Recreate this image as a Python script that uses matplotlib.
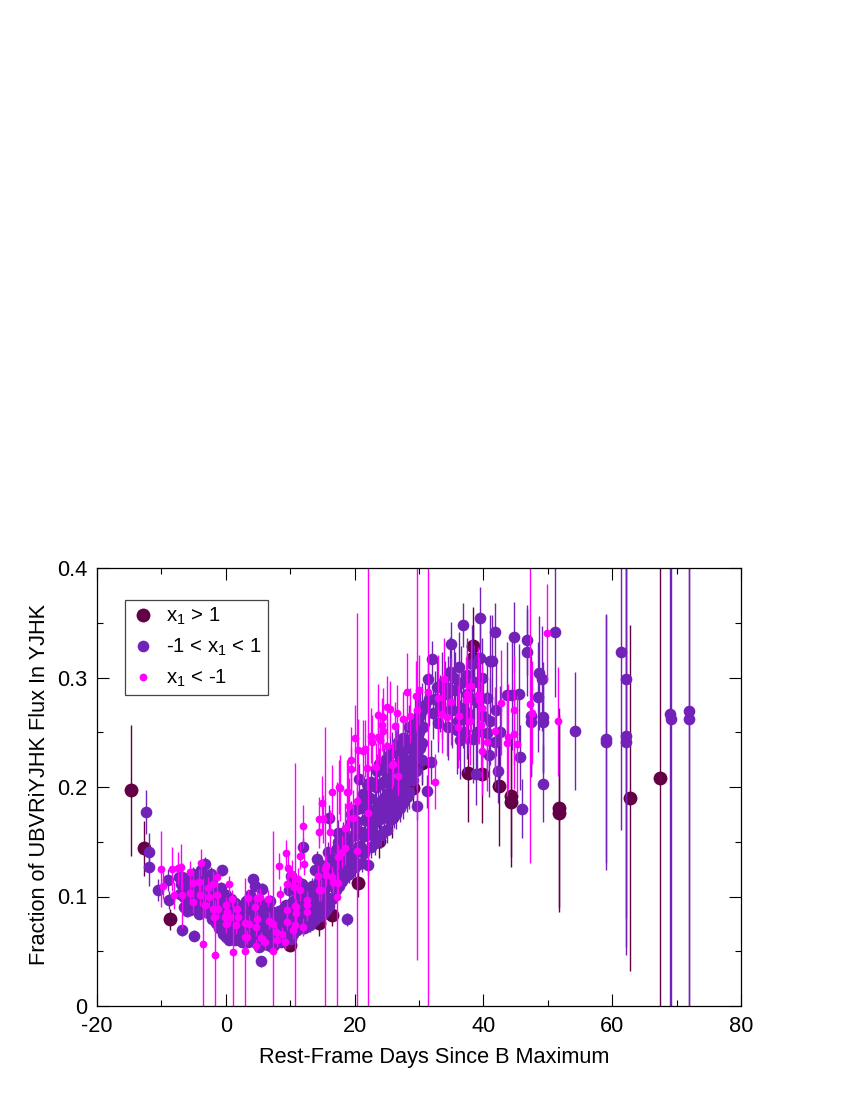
#!/usr/bin/env python3
import matplotlib
matplotlib.use('Agg')
import matplotlib.pyplot as plt
from matplotlib.ticker import MultipleLocator, FixedFormatter, FixedLocator

plt.rcParams['font.family'] = ['Liberation Sans', 'DejaVu Sans']
plt.rcParams['mathtext.default'] = 'regular'
plt.rcParams['axes.unicode_minus'] = False

# (days, fraction, error)
dark_points = [
    (-14.7, .197, .060), (-12.7, .144, .025), (-8.7, .079, .010), (-0.9, .095, .006),
    (4.0, .090, .008), (5.8, .083, .008), (9.5, .083, .006), (10.0, .056, .005),
    (14.5, .076, .012), (16.5, .083, .010), (20.5, .112, .012), (23.8, .151, .016),
    (25.8, .173, .020), (29.0, .199, .020), (30.4, .222, .020), (38.4, .329, .035),
    (38.4, .318, .030), (37.6, .213, .045), (39.8, .212, .045), (42.4, .201, .055),
    (44.3, .192, .056), (44.3, .186, .059), (51.7, .181, .091), (51.7, .176, .090),
    (62.8, .190, .158), (67.4, .208, .400),
]

mid_points = [
    # early, sparse
    (-12.4, .177, .020), (-12.0, .141, .017), (-11.9, .127, .017), (-10.5, .106, .010),
    (-9.0, .115, .010), (-8.8, .097, .008), (-6.8, .069, .005), (-4.9, .064, .005),
    (-7.3, .118, .008), (-3.2, .130, .006), (-2.3, .121, .006), (-0.6, .124, .005),
    (-5.6, .118, .006), (4.2, .116, .005), (4.5, .110, .005), (5.6, .107, .005),
    (5.5, .041, .005), (18.8, .079, .006), (12.0, .145, .008), (14.1, .134, .008),
    (16.0, .172, .012), (17.4, .158, .012),
    # minimum, dense band
    (-7.1, .102, .006), (-6.9, .111, .006), (-6.8, .118, .005),
    (-6.1, .087, .006), (-6.0, .096, .005), (-5.9, .104, .005), (-6.2, .115, .006),
    (-5.2, .091, .005), (-5.0, .101, .005), (-4.9, .109, .005), (-5.1, .121, .006),
    (-4.1, .084, .005), (-4.0, .095, .005), (-3.9, .106, .005), (-4.2, .114, .005), (-3.8, .124, .006),
    (-3.1, .086, .005), (-3.0, .094, .005), (-2.9, .105, .005), (-3.2, .116, .005),
    (-2.1, .079, .005), (-2.0, .091, .005), (-1.9, .099, .005), (-2.2, .111, .005),
    (-1.1, .071, .004), (-1.0, .081, .005), (-0.9, .089, .005), (-1.2, .101, .005), (-0.8, .108, .005),
    (0.1, .063, .004), (0.0, .071, .004), (-0.1, .079, .005), (0.2, .091, .005), (0.0, .101, .005),
    (1.1, .061, .004), (0.9, .070, .004), (1.0, .081, .005), (1.2, .089, .005), (0.8, .098, .005),
    (2.1, .060, .004), (1.9, .071, .004), (2.0, .079, .005), (2.2, .091, .005),
    (3.1, .064, .004), (2.9, .076, .005), (3.0, .084, .005), (3.2, .096, .005),
    (4.1, .059, .004), (3.9, .069, .004), (4.0, .081, .005), (4.2, .089, .005), (3.8, .101, .005),
    (5.1, .054, .004), (4.9, .066, .004), (5.0, .074, .005), (5.2, .086, .005), (4.8, .094, .005),
    (6.1, .058, .004), (5.9, .067, .004), (6.0, .079, .005), (6.2, .087, .005),
    (7.1, .054, .004), (6.9, .066, .004), (7.0, .074, .005), (7.2, .086, .005), (6.8, .096, .005),
    (8.1, .059, .004), (7.9, .067, .004), (8.0, .079, .005), (8.2, .087, .005),
    (9.1, .060, .004), (8.9, .071, .004), (9.0, .079, .005), (9.2, .091, .005),
    (10.1, .061, .005), (9.9, .069, .005), (10.0, .081, .005), (10.2, .089, .005), (9.8, .106, .006), (10.1, .119, .006),
    (11.1, .069, .005), (10.9, .081, .005), (11.0, .089, .005), (11.2, .101, .006), (10.8, .114, .006),
    (12.1, .071, .005), (11.9, .079, .005), (12.0, .091, .006), (12.2, .099, .006), (11.8, .111, .006),
    (13.1, .074, .006), (12.9, .086, .006), (13.0, .094, .006), (13.2, .106, .007),
    (14.1, .081, .007), (13.9, .089, .007), (14.0, .101, .007), (14.2, .109, .007), (13.8, .124, .008),
    (15.1, .084, .007), (14.9, .096, .007), (15.0, .104, .008), (15.2, .116, .008), (14.8, .129, .008),
    (16.1, .091, .007), (15.9, .099, .008), (16.0, .111, .008), (16.2, .124, .008), (15.8, .141, .009),
    # more of the band, between the rows above
    (-6.5, .090, .005), (-6.5, .100, .005), (-6.4, .110, .005), (-5.5, .088, .005), (-5.5, .098, .005), (-5.4, .108, .005),
    (-4.5, .090, .005), (-4.5, .100, .005), (-4.6, .110, .005), (-4.4, .118, .005), (-3.5, .088, .005), (-3.5, .098, .005),
    (-3.4, .108, .005), (-3.6, .118, .005), (-2.5, .084, .005), (-2.5, .094, .005), (-2.6, .104, .005), (-1.5, .076, .005),
    (-1.5, .086, .005), (-1.6, .096, .005), (-1.4, .104, .005), (-0.5, .066, .004), (-0.5, .076, .005), (-0.4, .086, .005),
    (-0.6, .096, .005), (0.5, .060, .004), (0.5, .068, .004), (0.6, .076, .005), (0.4, .086, .005), (0.5, .096, .005),
    (1.5, .060, .004), (1.5, .068, .004), (1.6, .076, .005), (1.4, .086, .005), (1.5, .094, .005), (2.5, .058, .004),
    (2.5, .066, .004), (2.6, .076, .005), (2.4, .086, .005), (3.5, .058, .004), (3.5, .066, .004), (3.6, .076, .005),
    (3.4, .086, .005), (3.5, .094, .005), (4.5, .058, .004), (4.5, .068, .004), (4.6, .078, .005), (4.4, .088, .005),
    (5.5, .056, .004), (5.5, .066, .004), (5.6, .076, .005), (5.4, .086, .005), (5.5, .094, .005), (6.5, .056, .004),
    (6.5, .064, .004), (6.6, .074, .005), (6.4, .084, .005), (7.5, .056, .004), (7.5, .066, .004), (7.6, .076, .005),
    (7.4, .086, .005), (8.5, .058, .004), (8.5, .066, .004), (8.6, .076, .005), (8.4, .086, .005), (9.5, .062, .005),
    (9.5, .072, .005), (9.6, .082, .005), (9.4, .092, .005), (10.5, .066, .005), (10.5, .076, .005), (10.6, .086, .005),
    (10.4, .096, .005), (11.5, .072, .005), (11.5, .082, .005), (11.6, .092, .006), (11.4, .104, .006), (12.5, .072, .005),
    (12.5, .084, .006), (12.6, .094, .006), (12.4, .104, .006), (13.5, .078, .006), (13.5, .088, .006), (13.6, .098, .007),
    (13.4, .110, .007), (14.5, .082, .007), (14.5, .092, .007), (14.6, .102, .007), (14.4, .114, .008), (15.5, .088, .007),
    (15.5, .098, .008), (15.6, .110, .008), (15.4, .122, .008),
    # the rise
    (17.1, .106, .008), (16.9, .117, .008), (17.0, .131, .009), (17.2, .144, .009),
    (18.1, .114, .008), (17.9, .129, .009), (18.0, .139, .009), (18.2, .158, .010),
    (19.1, .121, .009), (18.9, .134, .009), (19.0, .151, .010), (19.4, .175, .012),
    (20.1, .127, .009), (19.9, .139, .010), (20.0, .156, .010), (20.7, .207, .014), (20.2, .169, .012),
    (21.1, .131, .009), (20.9, .146, .010), (21.0, .159, .011), (21.3, .194, .014), (21.2, .181, .012),
    (22.1, .129, .009), (21.9, .156, .010), (22.0, .171, .012), (22.0, .203, .014), (22.2, .189, .013),
    (23.1, .149, .011), (22.9, .166, .011), (23.0, .179, .012), (23.2, .201, .014),
    (24.1, .156, .012), (23.9, .171, .012), (24.0, .186, .013), (24.2, .204, .014), (23.8, .221, .015),
    (25.1, .161, .012), (24.9, .179, .013), (25.0, .194, .014), (25.2, .211, .015), (24.8, .226, .015),
    (26.1, .176, .013), (25.9, .191, .014), (26.0, .204, .014), (26.2, .219, .015), (25.8, .234, .016),
    (27.1, .181, .013), (26.9, .194, .014), (27.0, .211, .015), (27.2, .226, .016), (26.8, .241, .017),
    (28.1, .191, .014), (27.9, .204, .015), (28.0, .221, .016), (28.2, .236, .017), (27.8, .244, .018),
    (29.1, .206, .016), (28.9, .219, .017), (29.0, .234, .018), (29.2, .251, .020), (29.7, .183, .013),
    (29.8, .262, .022), (30.1, .236, .020), (30.0, .250, .022), (30.2, .266, .024),
    (16.5, .098, .008), (16.5, .110, .008), (16.6, .122, .008), (16.4, .135, .009), (17.5, .110, .008), (17.5, .122, .008),
    (17.6, .135, .009), (17.4, .150, .010), (18.5, .118, .008), (18.5, .130, .009), (18.6, .145, .010), (18.4, .155, .010),
    (19.5, .125, .009), (19.5, .140, .010), (19.6, .155, .010), (19.4, .168, .011), (20.5, .130, .009), (20.5, .145, .010),
    (20.6, .160, .011), (20.4, .180, .012), (21.5, .140, .010), (21.5, .155, .011), (21.6, .170, .012), (21.4, .185, .013),
    (22.5, .145, .010), (22.5, .160, .011), (22.6, .175, .012), (22.4, .190, .013), (22.5, .205, .014), (23.5, .155, .011),
    (23.5, .170, .012), (23.6, .185, .013), (23.4, .200, .014), (23.5, .215, .015), (24.5, .160, .012), (24.5, .175, .013),
    (24.6, .190, .014), (24.4, .205, .015), (24.5, .220, .016), (25.5, .170, .013), (25.5, .185, .014), (25.6, .200, .015),
    (25.4, .215, .016), (25.5, .230, .017), (26.5, .175, .013), (26.5, .190, .014), (26.6, .205, .015), (26.4, .220, .016),
    (26.5, .235, .017), (27.5, .185, .014), (27.5, .200, .015), (27.6, .215, .016), (27.4, .230, .017), (27.5, .245, .018),
    (28.5, .195, .015), (28.5, .210, .016), (28.6, .225, .017), (28.4, .240, .018), (28.5, .255, .020), (29.5, .215, .017),
    (29.5, .230, .018), (29.6, .245, .020), (29.4, .260, .022), (30.5, .225, .020), (30.5, .240, .021), (30.6, .255, .023),
    (30.4, .270, .025),
    # the plateau
    (31.2, .196, .015), (31.9, .223, .020), (32.0, .317, .016), (31.4, .299, .020), (32.8, .291, .025),
    (31.0, .275, .022), (32.1, .268, .024), (33.0, .258, .026), (33.2, .276, .026), (34.0, .285, .030),
    (34.8, .305, .032), (35.0, .331, .020), (36.9, .348, .020), (36.2, .310, .032), (35.6, .289, .034),
    (36.4, .243, .036), (35.9, .252, .040), (35.1, .270, .034), (36.8, .272, .036), (37.5, .302, .034),
    (38.2, .312, .036), (38.6, .296, .034), (38.4, .244, .040), (38.9, .212, .028), (37.6, .268, .038),
    (39.5, .354, .029), (39.5, .318, .034), (39.8, .300, .036), (39.0, .278, .040), (40.6, .281, .038),
    (40.5, .249, .040), (40.9, .229, .038), (41.3, .315, .042), (41.0, .315, .042), (41.8, .342, .026),
    (41.8, .241, .042), (42.3, .215, .030), (43.7, .284, .048), (44.4, .284, .050), (44.8, .337, .032),
    (45.6, .285, .046), (45.7, .227, .030), (46.0, .180, .027), (46.8, .334, .032), (46.8, .323, .040),
    (47.4, .265, .055), (47.4, .259, .050), (48.5, .282, .050), (48.6, .304, .052), (49.1, .299, .048),
    (49.3, .264, .050), (49.3, .259, .046), (49.3, .203, .035), (51.1, .342, .060),
    (31.5, .280, .024), (32.5, .280, .026), (33.5, .295, .028), (34.5, .290, .030), (35.5, .300, .032), (36.5, .295, .034),
    (37.5, .285, .036), (38.5, .280, .038), (33.5, .270, .026), (34.5, .255, .030), (36.0, .260, .034), (37.0, .250, .036),
    (37.5, .262, .036), (39.0, .250, .038), (40.0, .265, .038), (41.0, .260, .040), (42.0, .270, .042), (42.5, .250, .042),
    # late, sparse
    (54.2, .251, .054), (59.1, .244, .113), (59.1, .241, .117), (61.4, .323, .162),
    (62.1, .299, .219), (62.1, .247, .193), (62.1, .241, .194), (69.0, .267, .300),
    (69.1, .262, .300), (72.0, .269, .310), (72.0, .262, .310),
]

pink_points = [
    # minimum
    (-10.0, .125, .035), (-9.7, .110, .012), (-8.4, .125, .020), (-7.0, .127, .021),
    (-7.5, .126, .015), (-5.6, .122, .010), (-3.9, .131, .012), (-3.5, .057, .060),
    (-1.6, .047, .050), (1.1, .049, .050), (3.0, .050, .067), (7.4, .050, .110),
    (-8.0, .101, .012), (-6.8, .101, .030), (-5.6, .103, .010), (-5.1, .095, .010),
    (-5.1, .112, .010), (-4.2, .113, .012), (-4.0, .101, .010), (-3.2, .092, .012),
    (-2.8, .108, .010), (-2.0, .111, .012), (-1.4, .118, .008), (-2.6, .100, .010),
    (-1.4, .101, .010), (-2.0, .089, .010), (-1.2, .089, .010), (-1.8, .081, .010),
    (0.0, .092, .008), (1.0, .098, .008), (0.5, .111, .008), (1.7, .089, .008),
    (0.2, .086, .008), (-0.1, .081, .008), (0.7, .081, .008), (1.9, .081, .008),
    (0.0, .075, .008), (1.6, .074, .008), (3.4, .099, .008), (4.5, .090, .008),
    (5.3, .100, .008), (4.8, .099, .008), (6.6, .098, .008), (3.0, .076, .008),
    (3.6, .075, .008), (4.8, .079, .008), (4.7, .072, .008), (6.7, .078, .008),
    (7.3, .075, .008), (8.4, .102, .008), (9.5, .088, .008), (10.9, .090, .008),
    (10.9, .085, .008), (9.5, .077, .008), (10.7, .074, .008), (10.4, .069, .008),
    (12.0, .072, .008), (7.8, .068, .006), (8.7, .066, .006), (8.0, .060, .006),
    (9.2, .058, .006), (5.5, .062, .006), (6.1, .058, .006), (4.7, .055, .006),
    (3.0, .063, .006), (3.3, .063, .006), (8.3, .128, .012), (9.3, .140, .012),
    (11.5, .137, .012), (12.1, .130, .010), (9.7, .126, .012), (10.3, .121, .012),
    (9.5, .111, .010), (10.6, .109, .010), (11.5, .106, .010), (11.2, .116, .010),
    (10.8, .091, .131), (12.6, .097, .008), (12.6, .092, .008), (12.6, .086, .008),
    # rise
    (12.0, .164, .020), (14.5, .171, .020), (15.1, .171, .022), (14.5, .159, .015),
    (14.9, .185, .025), (16.2, .159, .020), (16.5, .195, .025), (17.6, .200, .025),
    (15.6, .128, .010), (15.6, .120, .010), (14.3, .119, .010), (16.5, .118, .010),
    (16.6, .113, .010), (17.4, .112, .010), (14.8, .106, .010), (14.5, .106, .010),
    (15.4, .125, .130), (17.2, .100, .105), (20.3, .142, .217), (22.1, .176, .250),
    (19.0, .195, .030), (19.1, .183, .025), (20.3, .187, .030), (19.8, .172, .025),
    (18.5, .163, .022), (18.5, .144, .015), (18.0, .141, .015), (17.4, .136, .012),
    (17.7, .199, .030), (18.8, .195, .030), (20.0, .245, .030), (20.5, .234, .028),
    (21.3, .233, .028), (21.6, .235, .026), (22.5, .247, .025), (22.7, .241, .025),
    (19.4, .225, .030), (19.5, .216, .020), (23.6, .266, .028), (24.4, .264, .026),
    (23.6, .246, .024), (23.9, .243, .022), (25.0, .237, .024), (23.4, .218, .022),
    (21.9, .217, .020), (25.8, .220, .022), (26.8, .210, .018), (24.3, .257, .024),
    (24.4, .251, .022), (25.0, .273, .028), (25.5, .271, .026), (26.6, .268, .025),
    (27.5, .262, .025), (28.6, .265, .025), (26.3, .256, .022), (26.0, .221, .020),
    # plateau
    (33.9, .299, .037), (28.1, .287, .035), (30.0, .289, .032), (29.5, .283, .032),
    (31.4, .287, .300), (29.7, .270, .228), (37.4, .285, .040), (38.1, .292, .042),
    (37.3, .279, .040), (39.2, .284, .044), (39.3, .279, .040), (39.8, .272, .040),
    (42.7, .277, .048), (44.8, .270, .050), (47.3, .276, .145), (49.8, .341, .044),
    (51.6, .260, .050), (47.6, .268, .047), (35.0, .278, .040), (33.0, .281, .040),
    (33.6, .267, .036), (34.3, .264, .036), (36.2, .265, .040), (36.0, .255, .038),
    (37.9, .260, .040), (39.6, .257, .040), (40.6, .241, .045), (41.8, .251, .040),
    (39.8, .233, .040), (43.7, .240, .048), (43.8, .246, .048), (44.8, .248, .050),
    (45.2, .239, .045), (32.5, .205, .025),
]


def draw_group(ax, points, color, size, order, label):
    days = [p[0] for p in points]
    frac = [p[1] for p in points]
    err = [p[2] for p in points]
    return ax.errorbar(days, frac, yerr=err, fmt='o', color=color, ms=size, mew=0,
                       elinewidth=1.0, capsize=1.3, capthick=0.8, zorder=order, label=label)


fig = plt.figure(figsize=(8.5, 11), dpi=100)
ax = fig.add_axes([97 / 850, 1 - 1006 / 1100, (741 - 97) / 850, (1006 - 568) / 1100])

draw_group(ax, dark_points, '#640045', 10.0, 3, 'x$_1$ > 1')
draw_group(ax, mid_points, '#7222b8', 8.4, 4, '-1 < x$_1$ < 1')
draw_group(ax, pink_points, '#ff00ff', 5.6, 5, 'x$_1$ < -1')

ax.set_xlim(-20, 80)
ax.set_ylim(0, 0.4)
ax.xaxis.set_major_locator(MultipleLocator(20))
ax.xaxis.set_minor_locator(MultipleLocator(10))
ax.yaxis.set_major_locator(FixedLocator([0, 0.1, 0.2, 0.3, 0.4]))
ax.yaxis.set_major_formatter(FixedFormatter(['0', '0.1', '0.2', '0.3', '0.4']))
ax.yaxis.set_minor_locator(MultipleLocator(0.05))
ax.tick_params(which='major', direction='in', top=True, right=True, length=8.6, width=0.8, labelsize=15.7, pad=7)
ax.tick_params(which='minor', direction='in', top=True, right=True, length=4.3, width=0.8)
for s in ax.spines.values():
    s.set_linewidth(0.9)
    s.set_zorder(10)

ax.set_xlabel('Rest-Frame Days Since B Maximum', fontsize=15.7)
ax.set_ylabel('Fraction of UBVRiYJHK Flux In YJHK', fontsize=15.7)
ax.xaxis.set_label_coords(0.523, -0.0925)
ax.yaxis.set_label_coords(-0.073, 0.505)

# only the markers go in the key
handles, labels = ax.get_legend_handles_labels()
handles = [h[0] for h in handles]
leg = ax.legend(handles, labels, loc='upper left', bbox_to_anchor=((125 - 97) / 644, 1 - (600 - 568) / 438),
                fontsize=14.7, frameon=True, fancybox=False, edgecolor='#444444', framealpha=1,
                borderaxespad=0, borderpad=0.3, labelspacing=0.47, handletextpad=0.55, handlelength=1.15)
leg.get_frame().set_linewidth(0.9)
leg.set_zorder(20)

plt.savefig('out.png', dpi=100)
